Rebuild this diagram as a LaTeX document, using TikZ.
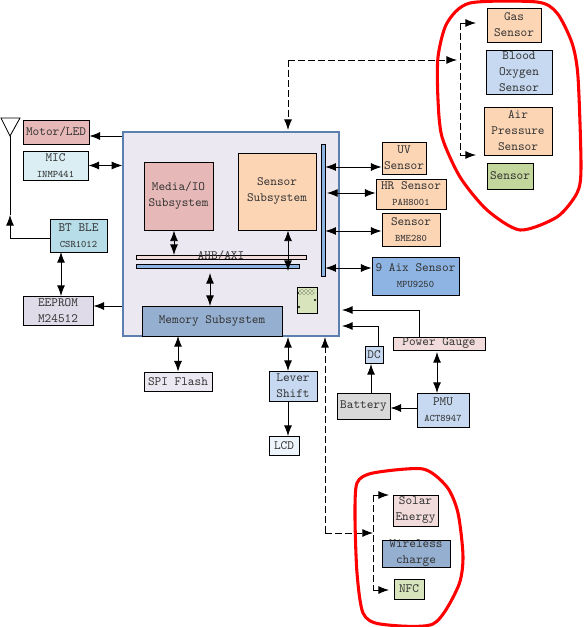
\documentclass[tikz,border=0pt]{standalone}
\usepackage{xcolor}
\usetikzlibrary{arrows.meta, patterns}
\definecolor{sysfill}{HTML}{EBE8F1}
\definecolor{sysline}{HTML}{5B7FAF}
\definecolor{rosefill}{HTML}{E6B8B7}
\definecolor{peachfill}{HTML}{FCD5B5}
\definecolor{skyfill}{HTML}{C6D9F1}
\definecolor{steelfill}{HTML}{95AFD0}
\definecolor{busfill}{HTML}{8DB4E2}
\definecolor{pinkfill}{HTML}{F2DCDB}
\definecolor{limefill}{HTML}{D7E4BC}
\definecolor{olivefill}{HTML}{C3D69B}
\definecolor{icefill}{HTML}{DAEEF3}
\definecolor{aquafill}{HTML}{B7DDE8}
\definecolor{lilacfill}{HTML}{E0DBE8}
\definecolor{blobred}{HTML}{FF0000}
\def\px{0.75pt}
\newcommand{\subline}{\fontsize{7.5}{12}\selectfont}
\tikzset{
    blk/.style 2 args={draw=black, line width=0.65pt, inner sep=0pt, align=center,
        minimum width=#1*\px, minimum height=#2*\px},
    busbar/.style={line width=0.4pt},
    dashline/.style={dash pattern=on 5pt off 2.5pt, line width=0.65pt},
    blob/.style={blobred, line width=2.3pt, smooth cycle, tension=0.45},
}

\begin{document}
\begin{tikzpicture}[x=\px, y=-\px, line width=0.65pt, >={Latex[length=8pt,width=6pt]},
    font=\fontsize{9.5}{12}\selectfont\ttfamily, text=black!80]

    \useasboundingbox (0,0) rectangle (583,627);

    % main chip with its subsystems and buses
    \node[blk={216}{204}, draw=sysline, line width=1pt, fill=sysfill] (sys) at (231,234) {};
    \node[blk={69}{68}, fill=rosefill] (media) at (178.5,196) {Media/IO\\Subsystem};
    \node[blk={78}{77}, fill=peachfill] (sensub) at (277,191.5) {Sensor\\Subsystem};
    \node[blk={170}{4}, busbar, fill=pinkfill] (ahb) at (221,257) {};
    \node[blk={163}{4}, busbar, fill=busfill] (axi) at (217.5,266) {};
    \node (ahblabel) at (221,256) {AHB/AXI};
    \node[blk={140}{30}, fill=steelfill] (mem) at (212,321) {Memory Subsystem};
    \node[blk={4}{132}, busbar, fill=busfill] (vbus) at (323,210) {};
    \node[blk={20}{26}, fill=limefill] (chip) at (307,300) {};
    \fill[pattern=crosshatch dots, pattern color=black] (299,289) rectangle (314,294);
    \fill[black] (298,293) circle (0.8pt) (315,300) circle (0.8pt) (299,307) circle (0.8pt);

    % left side
    \node[blk={66}{24}, fill=rosefill] (motor) at (56,132) {Motor/LED};
    \node[blk={65}{29}, fill=icefill] (mic) at (55.5,165.5) {MIC\\{\subline INMP441}};
    \node[blk={57}{33}, fill=aquafill] (bt) at (78.5,235.5) {BT BLE\\{\subline CSR1012}};
    \node[blk={70}{29}, fill=lilacfill] (eeprom) at (58,310.5) {EEPROM\\M24512};
    \coordinate (antl) at (1,118);
    \coordinate (antr) at (20,118);
    \coordinate (ant) at (10,136);
    \draw (antl) -- (antr) -- (ant) -- cycle;

    % right side sensors
    \node[blk={44}{32}, fill=peachfill] (uv) at (404,158) {UV\\Sensor};
    \node[blk={70}{30}, fill=peachfill] (hr) at (411,194) {HR Sensor\\{\subline PAH8001}};
    \node[blk={58}{33}, fill=peachfill] (bme) at (411,229.5) {Sensor\\{\subline BME280}};
    \node[blk={87}{38}, fill=busfill] (aix) at (415.5,276) {9 Aix Sensor\\{\subline MPU9250}};

    % power and lower blocks
    \node[blk={92}{13}, fill=pinkfill] (gauge) at (439,343.5) {Power Gauge};
    \node[blk={18}{17}, fill=skyfill] (dc) at (374,354.5) {DC};
    \node[blk={53}{26}, fill=black!15] (battery) at (363.5,406) {Battery};
    \node[blk={52}{34}, fill=skyfill] (pmu) at (443,410) {PMU\\{\subline ACT8947}};
    \node[blk={68}{19}, fill=sysfill] (spi) at (178,381.5) {SPI Flash};
    \node[blk={48}{30}, fill=skyfill] (lever) at (293,386) {Lever\\Shift};
    \node[blk={30}{19}, fill=skyfill!30!white] (lcd) at (284,445.5) {LCD};

    % optional sensors, top right
    \node[blk={54}{34}, fill=peachfill] (gas) at (514,25) {Gas\\Sensor};
    \node[blk={66}{44}, fill=skyfill] (blood) at (519,72) {Blood\\Oxygen\\Sensor};
    \node[blk={68}{48}, fill=peachfill] (air) at (518,131) {Air\\Pressure\\Sensor};
    \node[blk={46}{26}, fill=olivefill] (extra) at (510,176) {Sensor};

    % optional power sources, bottom right
    \node[blk={45}{31}, fill=pinkfill] (solar) at (415.5,510.5) {Solar\\Energy};
    \node[blk={68}{27}, fill=steelfill] (wireless) at (416,553.5) {Wireless\\charge};
    \node[blk={30}{20}, fill=limefill] (nfc) at (409,589) {NFC};

    % free ends of the dashed branches
    \coordinate (topbend) at (288,60);
    \coordinate (topsplit) at (457,60);
    \coordinate (gasend) at (476,23);
    \coordinate (airend) at (476,155);
    \coordinate (lowbend) at (325,533);
    \coordinate (lowsplit) at (373,533);
    \coordinate (solarend) at (389,495);
    \coordinate (nfcend) at (389,590);

    % connectors, left
    \draw[->] (sys.west |- 0,136) -- (motor.east |- 0,136);
    \draw[<->] (mic.east) -- (mic.east -| sys.west);
    \draw[->] (bt.west |- 0,238) -- (10,238) -- (10,215);
    \draw (10,215) -- (ant);
    \draw[<->] (61,252) -- (61,296);
    \draw[->] (sys.west |- 0,306) -- (eeprom.east |- 0,306);

    % connectors, inside the chip
    \draw[<->] (174,230.5) -- (174,255);
    \draw[<->] (288,230.5) -- (288,271);
    \draw[<->] (210,273) -- (210,306);
    \draw[<->] (178,336) -- (spi.north);

    % connectors, sensors
    \draw[<->] (vbus.east |- 0,167) -- (uv.west |- 0,167);
    \draw[<->] (327,193) -- (hr.west |- 0,193);
    \draw[<->] (vbus.east |- 0,231) -- (bme.west |- 0,231);
    \draw[<->] (vbus.east |- 0,268) -- (aix.west |- 0,268);

    % connectors, power
    \draw[->] (419,337) -- (419,310) -- (342,310);
    \draw[->] (378,346) -- (378,326) -- (342,326);
    \draw[<->] (437,352) -- (437,393);
    \draw[->] (371,393) -- (371,364);
    \draw[->] (pmu.west |- 0,408) -- (battery.east |- 0,408);
    \draw[<->] (288,337) -- (288,371);
    \draw[->] (288,401) -- (288,436);

    % dashed connectors
    \draw[->, dashline] (topbend) -- (288,130);
    \draw[->, dashline] (topbend) -- (topsplit);
    \draw[->, dashline] (460,23) -- (gasend);
    \draw[->, dashline] (460,155) -- (airend);
    \draw[dashline] (460,23) -- (460,155);
    \draw[->, dashline] (lowbend) -- (325,337);
    \draw[->, dashline] (lowbend) -- (lowsplit);
    \draw[->, dashline] (373,495) -- (solarend);
    \draw[->, dashline] (373,590) -- (nfcend);
    \draw[dashline] (373,495) -- (373,590);

    % red outlines
    \draw[blob] plot coordinates {(470,3) (537,2) (557,13) (572,43) (578,77) (581,167)
        (577,193) (557,217) (520,230) (487,210) (460,177) (442,137) (438,100) (438,57) (447,23)};
    \draw[blob] plot coordinates {(357,483) (373,473) (423,469) (447,487) (458,513) (463,557)
        (458,587) (433,624) (380,624) (363,613) (357,573) (355,517)};

\end{tikzpicture}
\end{document}
